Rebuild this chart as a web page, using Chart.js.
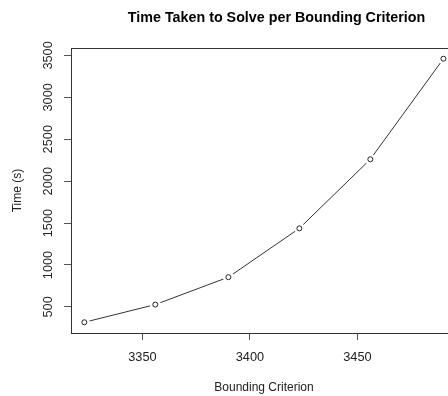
<!DOCTYPE html>
<html>
<head>
<meta charset="utf-8">
<script src="https://cdn.jsdelivr.net/npm/chart.js@4/dist/chart.umd.min.js"></script>
<style>
  html, body { margin: 0; padding: 0; background: #fff; overflow: hidden; }
  #wrap { width: 448px; height: 396px; overflow: hidden; position: relative; }
  canvas { display: block; }
</style>
</head>
<body>
<div id="wrap"><canvas id="c" width="553" height="396"></canvas></div>
<script>
// ---- data ----
const boundingCriterion = [3323, 3356, 3390, 3423, 3456, 3490];
const timeTaken = [317, 528, 855, 1437, 2261, 3460];
const xTickValues = [3350, 3400, 3450];
const yTickValues = [500, 1000, 1500, 2000, 2500, 3000, 3500];

const FONT = "'Liberation Sans', Arial, sans-serif";
const points = boundingCriterion.map((x, i) => ({ x: x, y: timeTaken[i] }));

const boxPlugin = {
  id: 'box',
  afterDraw(chart) {
    const a = chart.chartArea, ctx = chart.ctx;
    ctx.save();
    ctx.strokeStyle = '#333';
    ctx.lineWidth = 1;
    const l = Math.round(a.left) + 0.5, t = Math.round(a.top) + 0.5;
    const r = Math.round(a.right) + 0.5, b = Math.round(a.bottom) + 0.5;
    ctx.strokeRect(l, t, r - l, b - t);
    ctx.restore();
  }
};

new Chart(document.getElementById('c'), {
  type: 'line',
  data: {
    datasets: [
      { // open circles
        data: points, showLine: false, pointRadius: 2.5, pointBorderWidth: 1,
        pointBorderColor: '#222', pointBackgroundColor: '#fff', pointHoverRadius: 2.5
      },
      { // gap mask (R type = "b")
        data: points, showLine: false, pointRadius: 5.5, pointBorderWidth: 0,
        pointBorderColor: 'rgba(0,0,0,0)', pointBackgroundColor: '#fff'
      },
      { // connecting line
        data: points, showLine: true, pointRadius: 0, borderColor: '#333',
        borderWidth: 1, tension: 0, fill: false
      }
    ]
  },
  options: {
    responsive: false,
    animation: false,
    events: [],
    layout: { padding: 0 },
    plugins: {
      legend: { display: false },
      tooltip: { enabled: false },
      title: {
        display: true,
        text: 'Time Taken to Solve per Bounding Criterion',
        color: '#000',
        font: { family: FONT, size: 14.3, weight: 'bold', lineHeight: 1.2 },
        padding: { top: 9.5, bottom: 21.34 }
      }
    },
    scales: {
      x: {
        type: 'linear', position: 'bottom',
        min: 3316.8, max: 3496.3,
        afterBuildTicks(s) { s.ticks = xTickValues.map(v => ({ value: v })); },
        afterFit(s) { s.height = 63; },
        ticks: { color: '#222', font: { family: FONT, size: 12.8 }, padding: 9.5, autoSkip: false, maxRotation: 0, minRotation: 0,
                 callback: v => String(v) },
        grid: { display: true, drawOnChartArea: false, drawTicks: true, tickLength: 7, color: '#555' },
        border: { display: false },
        title: { display: true, text: 'Bounding Criterion', color: '#222', font: { family: FONT, size: 12 }, padding: { top: 0, bottom: 1 } }
      },
      y: {
        type: 'linear', position: 'left',
        min: 189, max: 3588,
        afterBuildTicks(s) { s.ticks = yTickValues.map(v => ({ value: v })); },
        afterFit(s) { s.width = 71; },
        ticks: { color: '#222', font: { family: FONT, size: 12.8 }, padding: 1.3, autoSkip: false, minRotation: 90, maxRotation: 90, crossAlign: 'center',
                 callback: v => String(v) },
        grid: { display: true, drawOnChartArea: false, drawTicks: true, tickLength: 7, color: '#555' },
        border: { display: false },
        title: { display: true, text: 'Time (s)', color: '#222', font: { family: FONT, size: 12 }, padding: { top: 10.8, bottom: 0 } }
      },
      yR: {
        type: 'linear', position: 'right', display: true,
        afterFit(s) { s.width = 96; },
        ticks: { display: false },
        grid: { display: false },
        border: { display: false }
      }
    }
  },
  plugins: [boxPlugin]
});
</script>
</body>
</html>
